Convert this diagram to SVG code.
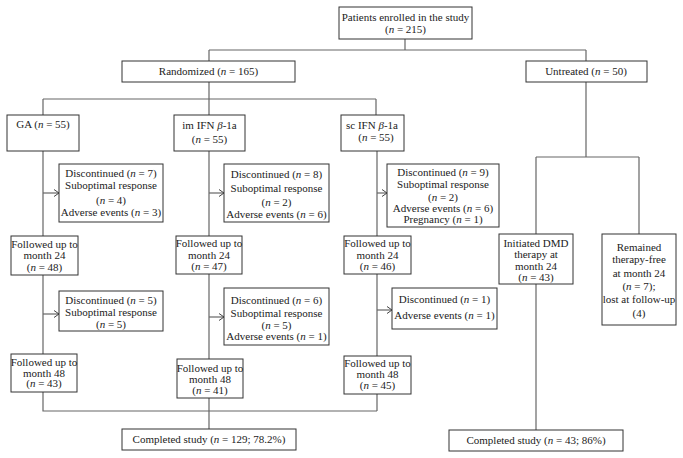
<svg xmlns="http://www.w3.org/2000/svg" width="683" height="458" viewBox="0 0 683 458">
<defs>
<style>
.b{fill:#fff;stroke:#333;stroke-width:1}
.t{font-family:"Liberation Serif","Times New Roman",serif;font-size:11px;fill:#222;text-anchor:middle}
.c{fill:none;stroke:#666;stroke-width:1.2}
.i{font-style:italic}
</style>
<marker id="ah" viewBox="0 0 6 8" refX="5.5" refY="4" markerWidth="6" markerHeight="8" markerUnits="userSpaceOnUse" orient="auto">
<path d="M0.5,0.5 L5.5,4 L0.5,7.5" fill="none" stroke="#444" stroke-width="1"/>
</marker>
</defs>
<rect width="683" height="458" fill="#fff"/>
<g id="connectors">
<path class="c" d="M405,39 V50 M209,50 H586 M209,50 V61 M586,50 V61"/>
<path class="c" d="M209,82 V99 M43,99 H376 M43,99 V115 M209,99 V115 M376,99 V115"/>
<path class="c" d="M586,82 V157 M536,157 H639 M536,157 V234 M639,157 V234"/>
<path class="c" d="M43,151 V236 M43,275 V354 M43,392 V411 H377"/>
<path class="c" d="M209,151 V236 M209,274 V359 M209,398 V429"/>
<path class="c" d="M377,151 V236 M377,274 V356 M377,394 V411"/>
<path class="c" d="M536,284 V430"/>
<path class="c" marker-end="url(#ah)" d="M43,193 H59"/>
<path class="c" marker-end="url(#ah)" d="M43,314 H59"/>
<path class="c" marker-end="url(#ah)" d="M209,193 H224"/>
<path class="c" marker-end="url(#ah)" d="M209,317 H224"/>
<path class="c" marker-end="url(#ah)" d="M377,193 H387"/>
<path class="c" marker-end="url(#ah)" d="M377,310 H392"/>
</g>
<g id="patients"><rect class="b" x="339" y="7" width="133" height="32"/>
<text class="t" x="405.5" y="21">Patients enrolled in the study</text>
<text class="t" x="405.5" y="33">(<tspan class="i">n</tspan> = 215)</text></g>
<g id="randomized"><rect class="b" x="122" y="61" width="173" height="21"/>
<text class="t" x="208.5" y="75">Randomized (<tspan class="i">n</tspan> = 165)</text></g>
<g id="untreated"><rect class="b" x="526" y="61" width="121" height="21"/>
<text class="t" x="586" y="75">Untreated (<tspan class="i">n</tspan> = 50)</text></g>
<g id="ga"><rect class="b" x="7" y="115" width="72" height="36"/>
<text class="t" x="43" y="128">GA (<tspan class="i">n</tspan> = 55)</text></g>
<g id="im"><rect class="b" x="174" y="115" width="71" height="36"/>
<text class="t" x="209.5" y="128.5">im IFN <tspan class="i">β</tspan>-1a</text>
<text class="t" x="209.5" y="142.5">(<tspan class="i">n</tspan> = 55)</text></g>
<g id="sc"><rect class="b" x="341" y="115" width="63" height="36"/>
<text class="t" x="372" y="128.5">sc IFN <tspan class="i">β</tspan>-1a</text>
<text class="t" x="376" y="141">(<tspan class="i">n</tspan> = 55)</text></g>
<g id="ga-disc1"><rect class="b" x="59" y="164" width="104" height="58"/>
<text class="t" x="111" y="176.5">Discontinued (<tspan class="i">n</tspan> = 7)</text>
<text class="t" x="111" y="189">Suboptimal response</text>
<text class="t" x="111" y="203.5">(<tspan class="i">n</tspan> = 4)</text>
<text class="t" x="111" y="215.5">Adverse events (<tspan class="i">n</tspan> = 3)</text></g>
<g id="ga-f24"><rect class="b" x="11" y="236" width="67" height="39"/>
<text class="t" x="44.5" y="248">Followed up to</text>
<text class="t" x="44.5" y="259">month 24</text>
<text class="t" x="44.5" y="270.5">(<tspan class="i">n</tspan> = 48)</text></g>
<g id="ga-disc2"><rect class="b" x="59" y="291" width="104" height="40"/>
<text class="t" x="111" y="304">Discontinued (<tspan class="i">n</tspan> = 5)</text>
<text class="t" x="111" y="316">Suboptimal response</text>
<text class="t" x="111" y="328">(<tspan class="i">n</tspan> = 5)</text></g>
<g id="ga-f48"><rect class="b" x="11" y="354" width="66" height="38"/>
<text class="t" x="44" y="365.5">Followed up to</text>
<text class="t" x="44" y="376.5">month 48</text>
<text class="t" x="44" y="387">(<tspan class="i">n</tspan> = 43)</text></g>
<g id="im-disc1"><rect class="b" x="224" y="164" width="105" height="58"/>
<text class="t" x="276.5" y="178">Discontinued (<tspan class="i">n</tspan> = 8)</text>
<text class="t" x="276.5" y="192">Suboptimal response</text>
<text class="t" x="276.5" y="205.5">(<tspan class="i">n</tspan> = 2)</text>
<text class="t" x="276.5" y="217.5">Adverse events (<tspan class="i">n</tspan> = 6)</text></g>
<g id="im-f24"><rect class="b" x="176" y="236" width="66" height="38"/>
<text class="t" x="209" y="247">Followed up to</text>
<text class="t" x="209" y="258.5">month 24</text>
<text class="t" x="209" y="270">(<tspan class="i">n</tspan> = 47)</text></g>
<g id="im-disc2"><rect class="b" x="224" y="288" width="105" height="57"/>
<text class="t" x="276.5" y="304">Discontinued (<tspan class="i">n</tspan> = 6)</text>
<text class="t" x="276.5" y="317">Suboptimal response</text>
<text class="t" x="276.5" y="329">(<tspan class="i">n</tspan> = 5)</text>
<text class="t" x="276.5" y="339.5">Adverse events (<tspan class="i">n</tspan> = 1)</text></g>
<g id="im-f48"><rect class="b" x="177" y="359" width="66" height="39"/>
<text class="t" x="210" y="371.5">Followed up to</text>
<text class="t" x="210" y="382.5">month 48</text>
<text class="t" x="210" y="394">(<tspan class="i">n</tspan> = 41)</text></g>
<g id="sc-disc1"><rect class="b" x="387" y="164" width="112" height="63"/>
<text class="t" x="443" y="175.5">Discontinued (<tspan class="i">n</tspan> = 9)</text>
<text class="t" x="443" y="188">Suboptimal response</text>
<text class="t" x="443" y="200.5">(<tspan class="i">n</tspan> = 2)</text>
<text class="t" x="443" y="211.5">Adverse events (<tspan class="i">n</tspan> = 6)</text>
<text class="t" x="443" y="223">Pregnancy (<tspan class="i">n</tspan> = 1)</text></g>
<g id="sc-f24"><rect class="b" x="344" y="236" width="67" height="38"/>
<text class="t" x="377.5" y="247">Followed up to</text>
<text class="t" x="377.5" y="258.5">month 24</text>
<text class="t" x="377.5" y="270">(<tspan class="i">n</tspan> = 46)</text></g>
<g id="sc-disc2"><rect class="b" x="392" y="288" width="105" height="41"/>
<text class="t" x="444.5" y="303">Discontinued (<tspan class="i">n</tspan> = 1)</text>
<text class="t" x="444.5" y="318.5">Adverse events (<tspan class="i">n</tspan> = 1)</text></g>
<g id="sc-f48"><rect class="b" x="344" y="356" width="67" height="38"/>
<text class="t" x="377.5" y="367">Followed up to</text>
<text class="t" x="377.5" y="377.5">month 48</text>
<text class="t" x="377.5" y="388.5">(<tspan class="i">n</tspan> = 45)</text></g>
<g id="dmd"><rect class="b" x="499" y="234" width="74" height="50"/>
<text class="t" x="536" y="247">Initiated DMD</text>
<text class="t" x="536" y="258">therapy at</text>
<text class="t" x="536" y="270">month 24</text>
<text class="t" x="536" y="280.5">(<tspan class="i">n</tspan> = 43)</text></g>
<g id="remained"><rect class="b" x="602" y="234" width="74" height="91"/>
<text class="t" x="639" y="251">Remained</text>
<text class="t" x="639" y="263">therapy-free</text>
<text class="t" x="639" y="277">at month 24</text>
<text class="t" x="639" y="290">(<tspan class="i">n</tspan> = 7);</text>
<text class="t" x="639" y="303">lost at follow-up</text>
<text class="t" x="639" y="317">(4)</text></g>
<g id="completed1"><rect class="b" x="122" y="429" width="174" height="21"/>
<text class="t" x="209" y="443">Completed study (<tspan class="i">n</tspan> = 129; 78.2%)</text></g>
<g id="completed2"><rect class="b" x="449" y="430" width="174" height="21"/>
<text class="t" x="536" y="444">Completed study (<tspan class="i">n</tspan> = 43; 86%)</text></g>
</svg>
